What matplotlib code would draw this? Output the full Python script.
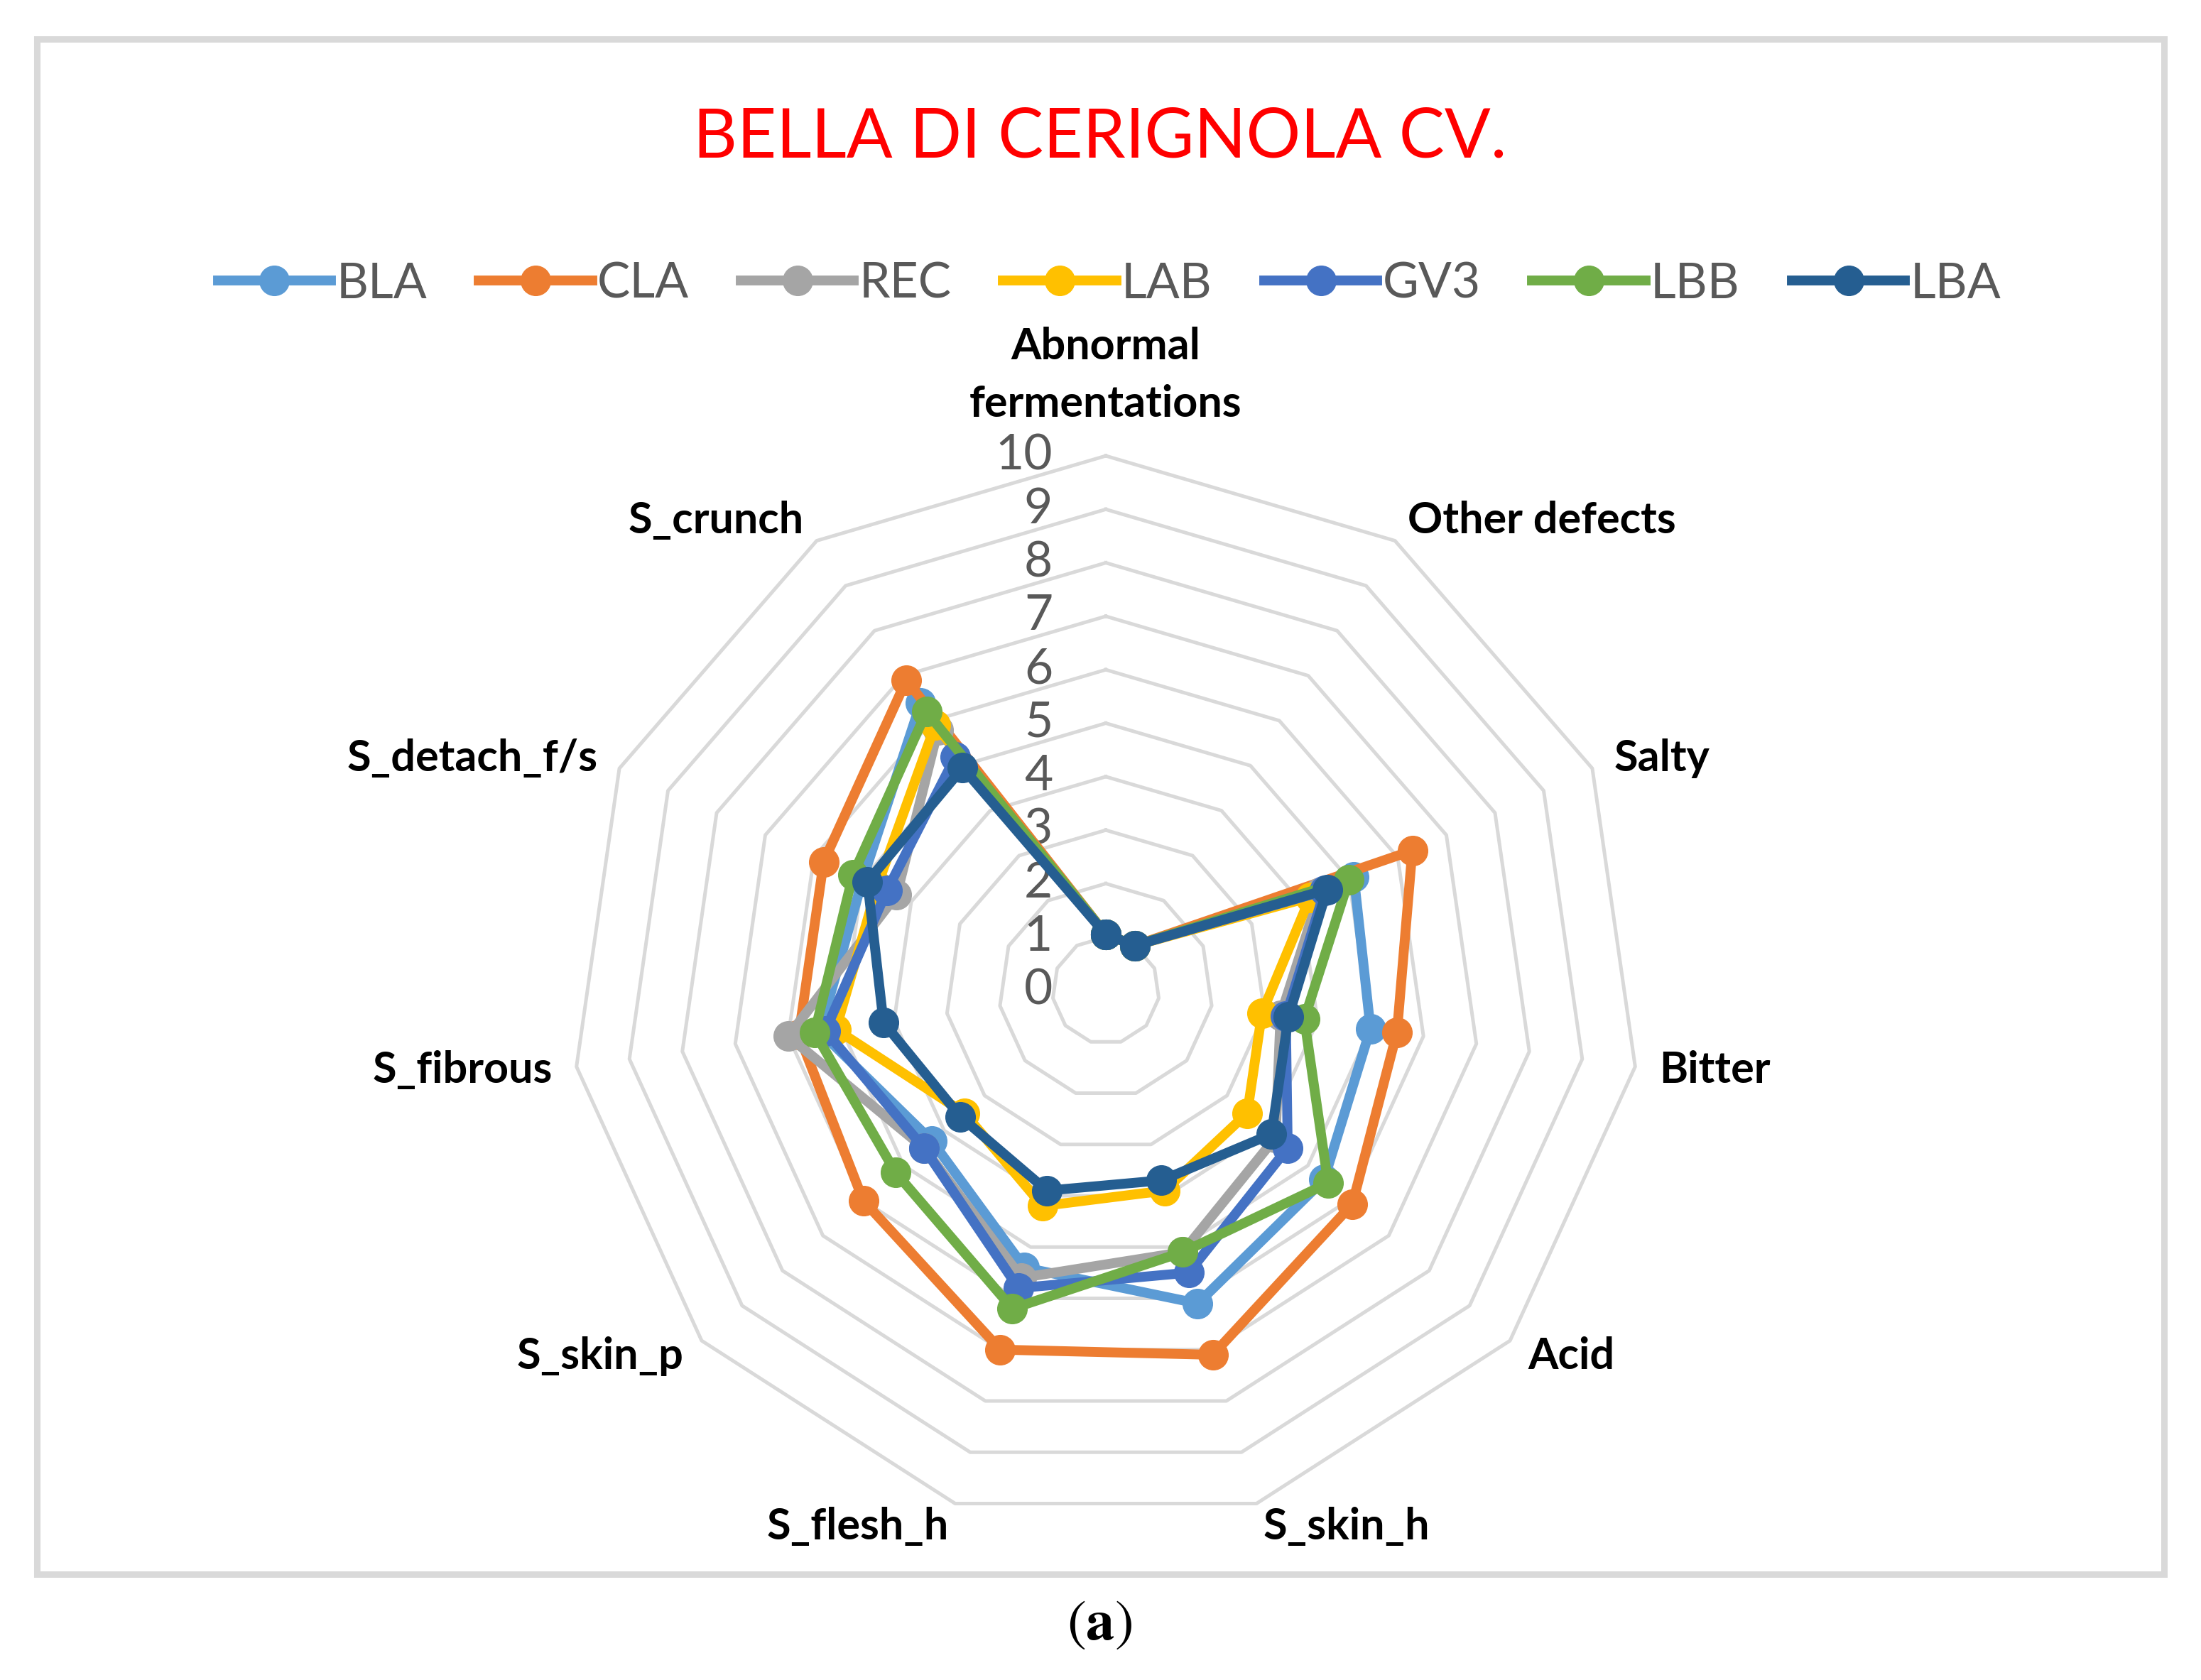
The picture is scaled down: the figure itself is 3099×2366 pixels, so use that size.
"""Radar chart: sensory profile of Bella di Cerignola table olives."""
import matplotlib
matplotlib.use("Agg")
import matplotlib.pyplot as plt
import numpy as np
from matplotlib.lines import Line2D
from matplotlib.patches import Rectangle
from matplotlib.transforms import offset_copy

# ---- data ----
categories = ["Abnormal\nfermentations", "Other defects", "Salty", "Bitter", "Acid",
              "S_skin_h", "S_flesh_h", "S_skin_p", "S_fibrous", "S_detach_f/s", "S_crunch"]
series_names = ["BLA", "CLA", "REC", "LAB", "GV3", "LBB", "LBA"]
bla = [1.05, 1.0, 5.1, 5.0, 5.4, 6.1, 5.4, 4.3, 5.4, 5.0, 6.4]
cla = [1.05, 1.0, 6.3, 5.5, 6.1, 7.1, 7.0, 6.0, 5.8, 5.8, 6.9]
rec = [1.05, 1.0, 4.4, 3.3, 4.2, 5.1, 5.6, 4.5, 6.0, 4.3, 5.8]
lab = [1.05, 1.0, 4.2, 2.95, 3.5, 3.9, 4.2, 3.5, 5.1, 4.7, 5.9]
gv3 = [1.05, 1.0, 4.5, 3.4, 4.5, 5.5, 5.8, 4.5, 5.3, 4.5, 5.2]
lbb = [1.05, 1.0, 5.0, 3.75, 5.5, 5.1, 6.2, 5.2, 5.5, 5.2, 6.2]
lba = [1.05, 1.0, 4.55, 3.45, 4.1, 3.7, 3.9, 3.6, 4.2, 4.9, 4.95]
series_values = [bla, cla, rec, lab, gv3, lbb, lba]
colors = ["#5B9BD5", "#ED7D31", "#A5A5A5", "#FFC000", "#4472C4", "#70AD47", "#255E91"]
rings = list(range(1, 11))
tick_labels = [str(t) for t in range(0, 11)]

W, H, DPI = 3099, 2366, 100
plt.rcParams["font.family"] = ["Lato", "DejaVu Sans"]
plt.rcParams["mathtext.fontset"] = "stix"

fig = plt.figure(figsize=(W / DPI, H / DPI), dpi=DPI)
fig.patch.set_facecolor("white")

# chart area border
fig.add_artist(Rectangle((52 / W, 1 - 2217 / H), (3047 - 52) / W, (2217 - 55) / H,
                         transform=fig.transFigure, fill=False,
                         edgecolor="#D9D9D9", linewidth=6.5))

cx, cy, R = 1557, 1395, 753
ax = fig.add_axes([(cx - R) / W, (H - cy - R) / H, 2 * R / W, 2 * R / H],
                  projection="polar")
ax.set_theta_zero_location("N")
ax.set_theta_direction(-1)
ax.set_ylim(0, 10)
ax.set_xticks([])
ax.set_yticks([])
ax.grid(False)
ax.spines["polar"].set_visible(False)
ax.patch.set_alpha(0)

n = len(categories)
theta = np.linspace(0, 2 * np.pi, n, endpoint=False)
theta_closed = np.append(theta, theta[0])

# polygon gridlines
for r in rings:
    ax.plot(theta_closed, [r] * (n + 1), color="#D9D9D9", lw=3.6, zorder=1,
            clip_on=False)

# value labels along the vertical axis
lbl_tr = offset_copy(ax.transData, fig=fig, x=-75, y=0, units="dots")
for i, t in enumerate(tick_labels):
    ax.text(0, i, t, transform=lbl_tr, ha="right", va="center",
            fontsize=50, color="#595959", zorder=2)

# series
for name, vals, col in zip(series_names, series_values, colors):
    ax.plot(theta_closed, vals + vals[:1], color=col, lw=10, marker="o",
            markersize=30, label=name, zorder=3, clip_on=False)

# category labels
for ang, cat in zip(theta, categories):
    s = np.sin(ang)
    if abs(s) < 1e-6:
        ax.text(ang, 10.6, cat, ha="center", va="bottom", fontsize=44,
                fontweight="bold", linespacing=1.55)
    else:
        ax.text(ang, 10.45, cat, ha="left" if s > 0 else "right", va="center",
                fontsize=44, fontweight="bold")

# title
fig.text(0.4999, 1 - 194 / H, "BELLA DI CERIGNOLA CV.", ha="center", va="center",
         fontsize=69, color="#FF0000")

# legend
handles = [Line2D([0], [0], color=c, lw=10, marker="o", markersize=30) for c in colors]
leg = fig.legend(handles, series_names, ncol=7, loc="center",
                 bbox_to_anchor=(0.504, 1 - 400 / H), frameon=False,
                 fontsize=50, handlelength=2.3, handletextpad=0.1,
                 columnspacing=1.05)
for txt in leg.get_texts():
    txt.set_color("#595959")

# panel tag
fig.text(0.4995, 1 - 2288 / H, r"$(\mathbf{a})$", ha="center", va="center",
         fontsize=58, color="black")

fig.savefig("out.png", dpi=DPI, facecolor="white")
